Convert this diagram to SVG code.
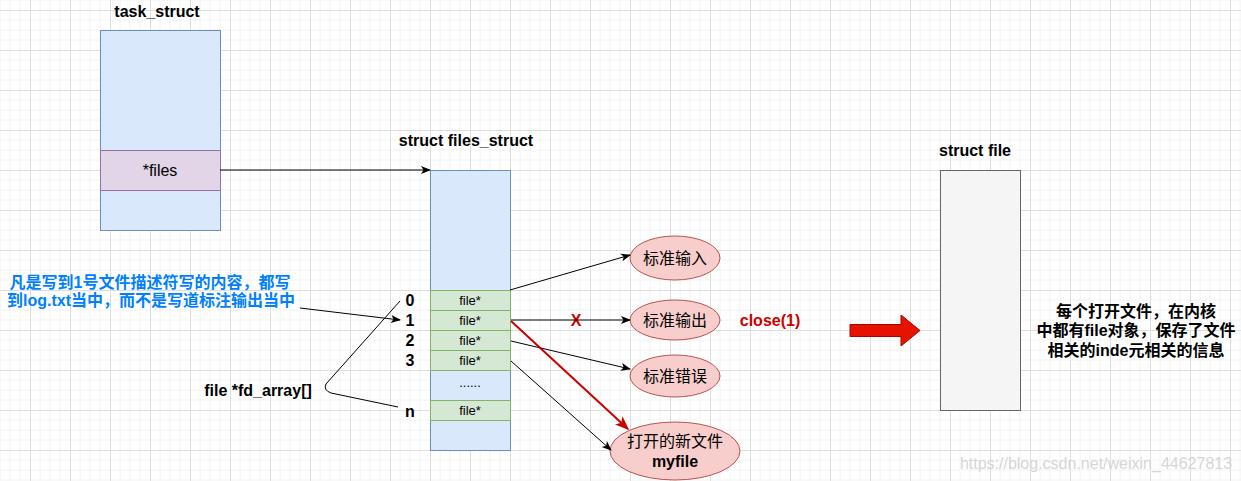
<svg xmlns="http://www.w3.org/2000/svg" width="1241" height="481" viewBox="0 0 1241 481">
<style>
.t{font-family:"Liberation Sans","Noto Sans CJK SC",sans-serif;font-size:16px;fill:#000}
.b{font-weight:bold}
.m{text-anchor:middle;dominant-baseline:central}
.sm{font-size:13px}
.blue{fill:#007FFF}
.red{fill:#CC0000}
.blk{fill:#dae8fc;stroke:#6c8ebf;stroke-width:1}
.pur{fill:#e1d5e7;stroke:#9673a6;stroke-width:1}
.grn{fill:#d5e8d4;stroke:#82b366;stroke-width:1}
.ell{fill:#f8cecc;stroke:#b85450;stroke-width:1}
.gry{fill:#f5f5f5;stroke:#666666;stroke-width:1}
.ln{fill:none;stroke:#000;stroke-width:1}
.rl{fill:none;stroke:#CC0000;stroke-width:2}
</style>
<defs>
<pattern id="grid" patternUnits="userSpaceOnUse" x="30" y="10" width="40" height="40">
<path d="M10 0V40M20 0V40M30 0V40M0 10H40M0 20H40M0 30H40" stroke="#f2f2f2" stroke-width="1" fill="none"/>
<path d="M0.5 0V40M0 0.5H40" stroke="#dedede" stroke-width="1" fill="none"/>
</pattern>
<marker id="ah" viewBox="0 0 10 10" refX="9" refY="5" markerWidth="10" markerHeight="10" markerUnits="userSpaceOnUse" orient="auto">
<path d="M0 1L10 5L0 9L2.5 5Z" fill="#000"/>
</marker>
<marker id="ahr" viewBox="0 0 10 10" refX="9" refY="5" markerWidth="7" markerHeight="7" orient="auto">
<path d="M0 1L10 5L0 9L2.5 5Z" fill="#CC0000"/>
</marker>
</defs>
<rect width="1241" height="481" fill="#ffffff"/>
<rect width="1241" height="481" fill="url(#grid)"/>

<g id="task_struct">
<text class="t b m" x="157" y="11">task_struct</text>
<rect class="blk" x="100.5" y="30.5" width="120" height="200"/>
<rect class="pur" x="100.5" y="150.5" width="120" height="40"/>
<text class="t m" x="160" y="170">*files</text>
</g>

<g id="files_struct">
<text class="t b m" x="466" y="140">struct files_struct</text>
<rect class="blk" x="430.5" y="170.5" width="80" height="280"/>
<rect class="grn" x="430.5" y="290.5" width="80" height="20"/>
<rect class="grn" x="430.5" y="310.5" width="80" height="20"/>
<rect class="grn" x="430.5" y="330.5" width="80" height="20"/>
<rect class="grn" x="430.5" y="350.5" width="80" height="20"/>
<rect class="grn" x="430.5" y="400.5" width="80" height="20"/>
<text class="t sm m" x="470" y="300">file*</text>
<text class="t sm m" x="470" y="320">file*</text>
<text class="t sm m" x="470" y="340">file*</text>
<text class="t sm m" x="470" y="360">file*</text>
<text class="t sm m" x="470" y="382">......</text>
<text class="t sm m" x="470" y="410">file*</text>
</g>

<g id="indices">
<text class="t b m" x="410" y="300">0</text>
<text class="t b m" x="410" y="320">1</text>
<text class="t b m" x="410" y="340">2</text>
<text class="t b m" x="410" y="360">3</text>
<text class="t b m" x="410" y="411">n</text>
<text class="t b m" x="258" y="390">file *fd_array[]</text>
</g>

<g id="note_left">
<text class="t b m blue" x="150" y="282">凡是写到1号文件描述符写的内容，都写</text>
<text class="t b m blue" x="151" y="300">到log.txt当中，而不是写道标注输出当中</text>
</g>

<g id="stdin">
<ellipse class="ell" cx="675" cy="258" rx="45" ry="22"/>
<text class="t m" x="675" y="258">标准输入</text>
</g>
<g id="stdout">
<ellipse class="ell" cx="675" cy="320" rx="45" ry="20"/>
<text class="t m" x="675" y="320">标准输出</text>
</g>
<g id="stderr">
<ellipse class="ell" cx="675" cy="376" rx="45" ry="21"/>
<text class="t m" x="675" y="376">标准错误</text>
</g>
<g id="myfile">
<ellipse class="ell" cx="675" cy="451" rx="65" ry="29"/>
<text class="t m" x="675" y="441">打开的新文件</text>
<text class="t b m" x="675" y="461">myfile</text>
</g>

<g id="close_label">
<text class="t b m red" x="770" y="320">close(1)</text>
<text class="t b m red" x="576" y="320">X</text>
</g>

<g id="big_arrow">
<path d="M850 324.5H901V315L920 330.5L901 346V336.5H850Z" fill="#e51400" stroke="#b20000" stroke-width="1"/>
</g>

<g id="struct_file">
<text class="t b m" x="975" y="150">struct file</text>
<rect class="gry" x="940.5" y="170.5" width="80" height="240"/>
</g>

<g id="note_right">
<text class="t b m" x="1136" y="311">每个打开文件，在内核</text>
<text class="t b m" x="1136" y="330">中都有file对象，保存了文件</text>
<text class="t b m" x="1136" y="350">相关的inde元相关的信息</text>
</g>

<g id="connectors">
<path class="ln" d="M220 170H430" marker-end="url(#ah)"/>
<path class="ln" d="M510 290L630 255" marker-end="url(#ah)"/>
<path class="ln" d="M511 320H630" marker-end="url(#ah)"/>
<path class="ln" d="M511 341L630 369" marker-end="url(#ah)"/>
<path class="ln" d="M511 361L611 450" marker-end="url(#ah)"/>
<path class="rl" d="M511 321L628 429" marker-end="url(#ahr)"/>
<path class="ln" d="M300 308L400 320" marker-end="url(#ah)"/>
<path class="ln" d="M400 301L326 384Q323 390 331 393L398 407"/>
</g>

<text x="1096" y="463" text-anchor="middle" dominant-baseline="central" style="font-family:'Liberation Sans',sans-serif;font-size:16px;fill:#d6d6d6">https://blog.csdn.net/weixin_44627813</text>
</svg>
